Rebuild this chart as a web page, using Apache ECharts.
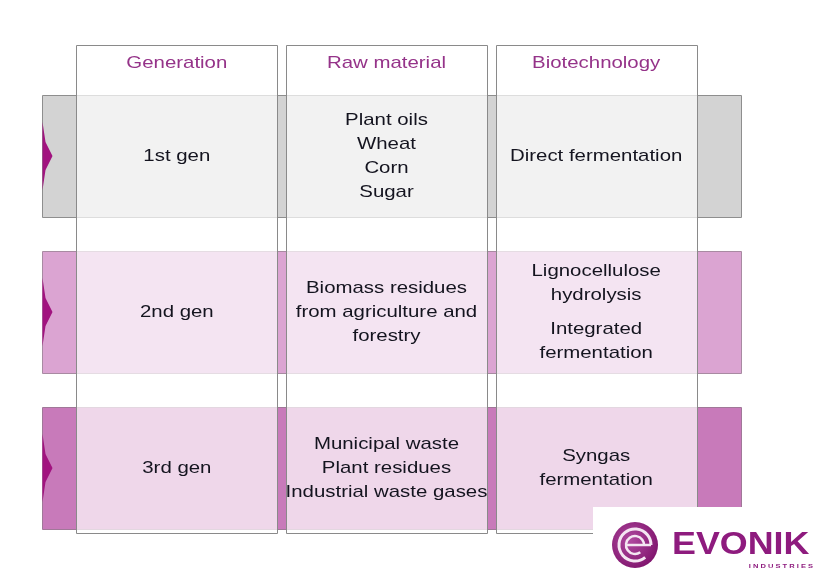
<!DOCTYPE html>
<html><head><meta charset="utf-8">
<script src="https://cdn.jsdelivr.net/npm/echarts@6/dist/echarts.min.js"></script>
<style>html,body{margin:0;padding:0;background:#fff}#c{width:839px;height:587px}</style>
</head><body><div id="c"></div>
<script>
// ---- data ----
const columns = ['Generation', 'Raw material', 'Biotechnology'];
const generations = ['1st gen', '2nd gen', '3rd gen'];
const rawMaterials = [
  'Plant oils\nWheat\nCorn\nSugar',
  'Biomass residues\nfrom agriculture and\nforestry',
  'Municipal waste\nPlant residues\nIndustrial waste gases'
];
const biotechnology = [
  'Direct fermentation',
  'Lignocellulose\nhydrolysis\n\nIntegrated\nfermentation',
  'Syngas\nfermentation'
];

// ---- styles ----
const BAND_FILL = ['#d3d3d3', '#dba4d2', '#c87aba'];
const BAND_STROKE = ['#8e8e8e', '#a88aa2', '#a07898'];
const FONT = '"Liberation Sans", Arial, sans-serif';
const FS = 17, SX = 1.2, LH = 24;

const cellTexts = [generations, rawMaterials, biotechnology];

function renderBand(params, api) {
  const cs = params.coordSys;
  const row = api.value(1);
  const cy = api.coord([0, row])[1];
  const h = api.size([0, 1])[1] - 34;
  const x0 = Math.round(cs.x - 30) + 0.5, x1 = Math.round(cs.x + cs.width + 40) + 0.5;
  const top = Math.round(cy - h / 2) + 0.5;
  return {
    type: 'group',
    children: [
      { type: 'rect', shape: { x: x0, y: top, width: x1 - x0, height: h },
        style: { fill: BAND_FILL[row], stroke: BAND_STROKE[row], lineWidth: 1 } },
      { type: 'polygon', shape: { points: [[x0, cy - 34], [x0 + 3, cy - 14], [x0 + 10, cy], [x0 + 3, cy + 14], [x0, cy + 34]] },
        style: { fill: '#a1137f' } }
    ]
  };
}

function renderColumn(params, api) {
  const cs = params.coordSys;
  const col = api.value(0);
  const cx = api.coord([col, 0])[0];
  const w = api.size([1, 0])[0] - 9;
  const top = Math.round(cs.y - 33) + 0.5, bottom = Math.round(cs.y + cs.height - 13) + 0.5;
  return {
    type: 'group',
    children: [
      { type: 'rect', shape: { x: Math.round(cx - w / 2) + 0.5, y: top, width: Math.round(w), height: bottom - top },
        style: { fill: 'rgba(255,255,255,0.7)', stroke: '#8a8a8a', lineWidth: 1 } },
      { type: 'text', x: cx, y: top + 18, scaleX: SX,
        style: { text: columns[col], fill: '#953389', font: FS + 'px ' + FONT, align: 'center', verticalAlign: 'middle' } }
    ]
  };
}

function renderCell(params, api) {
  const col = api.value(0), row = api.value(1);
  const p = api.coord([col, row]);
  const paras = cellTexts[col][row].split('\n\n');
  const gap = 10;
  const nLines = paras.reduce((s, t) => s + t.split('\n').length, 0);
  const total = nLines * LH + (paras.length - 1) * gap;
  let y = p[1] - total / 2;
  const children = [];
  paras.forEach(t => {
    children.push({ type: 'text', x: p[0], y: y, scaleX: SX,
      style: { text: t, fill: '#14141f', font: FS + 'px ' + FONT, lineHeight: LH, align: 'center', verticalAlign: 'top' } });
    y += t.split('\n').length * LH + gap;
  });
  return { type: 'group', children };
}

const bandData = generations.map((g, i) => [0, i]);
const colData = columns.map((c, i) => [i, 0]);
const cellData = [];
columns.forEach((c, ci) => generations.forEach((g, ri) => cellData.push([ci, ri])));

const chart = echarts.init(document.getElementById('c'));
chart.setOption({
  animation: false,
  backgroundColor: '#ffffff',
  grid: { left: 72, top: 78, width: 629, height: 468 },
  xAxis: { type: 'category', data: columns, show: false },
  yAxis: { type: 'category', data: generations, inverse: true, show: false },
  series: [
    { type: 'custom', name: 'bands', renderItem: renderBand, data: bandData, z: 1, silent: true },
    { type: 'custom', name: 'columns', renderItem: renderColumn, data: colData, z: 2, silent: true },
    { type: 'custom', name: 'cells', renderItem: renderCell, data: cellData, z: 3, silent: true }
  ],
  graphic: { elements: [
    { type: 'rect', z: 100, shape: { x: 593, y: 507, width: 246, height: 80 }, style: { fill: '#ffffff' } },
    { type: 'circle', z: 101, shape: { cx: 635, cy: 545, r: 23 },
      style: { fill: new echarts.graphic.RadialGradient(0.4, 0.4, 0.7, [{ offset: 0, color: '#b04aa0' }, { offset: 1, color: '#7c1069' }]) } },
    { type: 'arc', z: 102, shape: { cx: 635, cy: 545, r: 16, startAngle: 0.28 * Math.PI, endAngle: 2 * Math.PI, clockwise: true },
      style: { stroke: '#f4e6f2', lineWidth: 3, fill: null } },
    { type: 'arc', z: 102, shape: { cx: 635, cy: 545, r: 9, startAngle: 0.3 * Math.PI, endAngle: 2 * Math.PI, clockwise: true },
      style: { stroke: '#f4e6f2', lineWidth: 2.5, fill: null } },
    { type: 'line', z: 102, shape: { x1: 626, y1: 545, x2: 651, y2: 545 }, style: { stroke: '#f4e6f2', lineWidth: 2.5 } },
    { type: 'text', z: 102, x: 672, y: 545, scaleX: 1.12,
      style: { text: 'EVONIK', fill: '#8e1b7e', font: 'bold 32px ' + FONT, align: 'left', verticalAlign: 'middle' } },
    { type: 'text', z: 102, x: 813, y: 566, scaleX: 1.25,
      style: { text: 'I N D U S T R I E S', fill: '#8e1b7e', font: 'bold 6px ' + FONT, align: 'right', verticalAlign: 'middle' } }
  ] }
});
</script>
</body></html>
